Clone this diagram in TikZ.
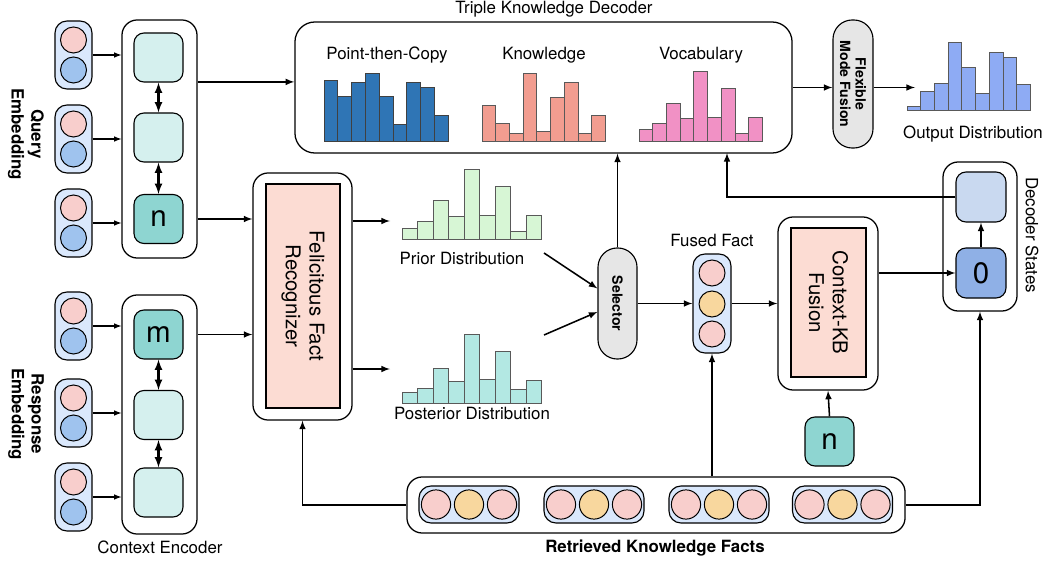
\documentclass[tikz,border=0pt]{standalone}
\usepackage{fontspec}
\setmainfont{TeX Gyre Heros}
\usepackage{tikz}

\definecolor{embfill}{HTML}{DAE8FC}
\definecolor{pinkdot}{HTML}{F8CECC}
\definecolor{bluedot}{HTML}{9FC3EE}
\definecolor{yellowdot}{HTML}{F8D79E}
\definecolor{cellfill}{HTML}{D5F0EE}
\definecolor{cellmark}{HTML}{8ED5D1}
\definecolor{selfill}{HTML}{E6E6E6}
\definecolor{recfill}{HTML}{FCDCD3}
\definecolor{stfill}{HTML}{C9D9F0}
\definecolor{zerofill}{HTML}{8FB0E6}
\definecolor{ptcbar}{HTML}{2F75B5}
\definecolor{knbar}{HTML}{F29D90}
\definecolor{vobar}{HTML}{F191C5}
\definecolor{outbar}{HTML}{8EABF4}
\definecolor{priorbar}{HTML}{D7F6D5}
\definecolor{postbar}{HTML}{B3E8E3}

\begin{document}
\begin{tikzpicture}[x=0.025cm, y=-0.025cm,
    every node/.style={inner sep=0pt},
    lbl/.style={font=\fontsize{12}{14}\selectfont},
    boldlbl/.style={font=\fontsize{12}{14}\selectfont\bfseries},
    smallbold/.style={font=\fontsize{10}{11}\selectfont\bfseries},
    bigtxt/.style={font=\fontsize{14.5}{17}\selectfont},
    link/.style={draw, -latex, line width=1.1pt},
    twoway/.style={draw, latex-latex, line width=1.5pt},
    outer/.style={draw, fill=white, rounded corners=0.38cm, line width=0.9pt},
    emb/.style={draw, fill=embfill, rounded corners=0.3cm, line width=0.8pt},
    dot/.style={circle, draw, minimum size=0.65cm, line width=0.7pt},
    cell/.style={draw, fill=cellfill, rounded corners=0.25cm, minimum size=1.225cm,
        line width=0.8pt, font=\fontsize{21}{21}\selectfont},
    capsule/.style={draw, fill=selfill, rounded corners=0.48cm, line width=0.8pt},
    bar/.style={draw=black!65, line width=0.5pt}
    ]
    \useasboundingbox (0,0) rectangle (1053,564);

    % Query side
    \foreach \y [count=\i] in {55,139,223} {
        \node[emb, minimum width=0.925cm, minimum height=1.7cm] (q\i) at (73.5,\y) {};
        \node[dot, fill=pinkdot] (qa\i) at (73.5,\y-15) {};
        \node[dot, fill=bluedot] (qb\i) at (73.5,\y+15) {};
    }
    \node[outer, minimum width=1.875cm, minimum height=5.95cm] (qenc) at (159.5,139) {};
    \node[cell] (qc1) at (158.5,57.5) {};
    \node[cell] (qc2) at (158.5,137.5) {};
    \node[cell, fill=cellmark] (qc3) at (158.5,219) {n};
    \node[boldlbl, rotate=-90, align=center] (qlbl) at (26,134) {Query\\Embedding};

    % Response side
    \foreach \y [count=\i] in {326,413,497} {
        \node[emb, minimum width=0.925cm, minimum height=1.7cm] (r\i) at (73.5,\y) {};
        \node[dot, fill=pinkdot] (ra\i) at (73.5,\y-15) {};
        \node[dot, fill=bluedot] (rb\i) at (73.5,\y+15) {};
    }
    \node[outer, minimum width=1.875cm, minimum height=5.975cm] (renc) at (159.5,414.5) {};
    \node[cell, fill=cellmark] (rc1) at (158.5,334.5) {m};
    \node[cell] (rc2) at (158.5,415) {};
    \node[cell] (rc3) at (158.5,492.5) {};
    \node[boldlbl, rotate=-90, align=center] (rlbl) at (26,414) {Response\\Embedding};
    \node[lbl] (enclbl) at (160,547) {Context Encoder};

    \foreach \i in {1,2,3} {
        \draw[link, line width=0.8pt] (q\i.east) -- (q\i.east -| qenc.west);
        \draw[link, line width=0.8pt] (r\i.east) -- (r\i.east -| renc.west);
    }
    \draw[twoway] (qc1) -- (qc2);
    \draw[twoway] (qc2) -- (qc3);
    \draw[twoway] (rc1) -- (rc2);
    \draw[twoway] (rc2) -- (rc3);

    % Triple knowledge decoder
    \node[outer, rounded corners=0.5cm, minimum width=12.425cm, minimum height=3.275cm] (dec) at (543.5,87.5) {};
    \node[lbl] (declbl) at (554,9) {Triple Knowledge Decoder};
    \node[lbl] (ptc) at (387,55) {Point-then-Copy};
    \node[lbl] (kn) at (544,55) {Knowledge};
    \node[lbl] (vo) at (701,55) {Vocabulary};
    \foreach \h [count=\i] in {61,45,59,68,45,17,59,54,26}
        \draw[bar, draw=black!75, fill=ptcbar] (324+13.8*\i-13.8,141) rectangle ++(13.8,-\h);
    \foreach \h [count=\i] in {36,18,8,68,10,44,59,8,26}
        \draw[bar, fill=knbar] (482+13.7*\i-13.7,141) rectangle ++(13.7,-\h);
    \foreach \h [count=\i] in {12,18,38,23,70,24,53,8,24}
        \draw[bar, fill=vobar] (639+13.7*\i-13.7,141) rectangle ++(13.7,-\h);

    % Mode fusion and output
    \node[capsule, minimum width=1cm, minimum height=3.2cm] (flex) at (853,84) {};
    \node[smallbold, rotate=-90, align=center] (flext) at (flex) {Flexible\\Mode Fusion};
    \foreach \h [count=\i] in {4,19,27,68,43,17,58,53,26}
        \draw[bar, fill=outbar] (907+13.7*\i-13.7,110) rectangle ++(13.7,-\h);
    \node[lbl] (outlbl) at (973,134) {Output Distribution};
    \coordinate (oin) at (915,87.5);

    % Felicitous fact recognizer
    \node[outer, minimum width=2.475cm, minimum height=6.175cm] (ffr) at (302.5,296.5) {};
    \node[draw, fill=recfill, minimum width=1.85cm, minimum height=5.6cm, line width=0.8pt] (rec) at (303,296) {};
    \node[bigtxt, rotate=-90, align=center] (rect) at (rec) {Felicitous Fact\\Recognizer};

    % Prior / posterior distributions
    \foreach \h [count=\i] in {11,18,39,23,70,24,53,8,24}
        \draw[bar, fill=priorbar] (402+15.5*\i-15.5,239) rectangle ++(15.5,-\h);
    \node[lbl] (priorlbl) at (462,258) {Prior Distribution};
    \foreach \h [count=\i] in {11,15,35,22,69,24,52,14,23}
        \draw[bar, fill=postbar] (402+15.5*\i-15.5,403) rectangle ++(15.5,-\h);
    \node[lbl] (postlbl) at (472,413) {Posterior Distribution};
    \coordinate (pin) at (390,221);
    \coordinate (qin) at (390,369);
    \coordinate (pout) at (544,253);
    \coordinate (qout) at (544,335);

    % Selector and fused fact
    \node[capsule, minimum width=0.975cm, minimum height=2.775cm] (sel) at (617.5,303.5) {};
    \node[smallbold, rotate=-90] (selt) at (sel) {Selector};
    \node[emb, minimum width=0.95cm, minimum height=2.475cm] (ff) at (712,303.5) {};
    \node[dot, fill=pinkdot] (ffa) at (712,273) {};
    \node[dot, fill=yellowdot] (ffb) at (712,304) {};
    \node[dot, fill=pinkdot] (ffc) at (712,334) {};
    \node[lbl] (fflbl) at (712,240) {Fused Fact};

    % Context-KB fusion
    \node[outer, minimum width=2.5cm, minimum height=4.325cm] (kb) at (828,303.5) {};
    \node[draw, fill=recfill, minimum width=1.875cm, minimum height=3.725cm, line width=0.8pt] (kbin) at (828.5,302.5) {};
    \node[bigtxt, rotate=-90, align=center] (kbt) at (kbin) {Context-KB\\Fusion};
    \node[cell, fill=cellmark] (nk) at (829.5,441.5) {n};

    % Decoder states
    \node[outer, minimum width=1.85cm, minimum height=3.725cm] (ds) at (980,236.5) {};
    \node[cell, fill=stfill, minimum size=1.25cm] (st) at (981,197) {};
    \node[cell, fill=zerofill, minimum size=1.25cm] (zero) at (981,273) {0};
    \node[lbl, rotate=-90] (dslbl) at (1032,235) {Decoder States};
    \coordinate (dfb) at (727,153);

    % Retrieved knowledge facts
    \node[outer, minimum width=12.45cm, minimum height=1.4cm] (rk) at (656,505) {};
    \foreach \x [count=\i] in {469,594,719,842.5} {
        \node[emb, minimum width=2.5cm, minimum height=0.925cm] (f\i) at (\x,504.5) {};
        \node[dot, minimum size=0.73cm, fill=pinkdot] (fa\i) at (\x-33,504.5) {};
        \node[dot, minimum size=0.73cm, fill=yellowdot] (fb\i) at (\x,504.5) {};
        \node[dot, minimum size=0.73cm, fill=pinkdot] (fc\i) at (\x+33,504.5) {};
    }
    \node[boldlbl] (rklbl) at (655,548) {Retrieved Knowledge Facts};

    % Connections
    \coordinate (din) at ([yshift=0.14cm]dec.west);
    \draw[link] (qenc.east |- din) -- (din);
    \draw[link] (qc3.east -| qenc.east) -- (qc3.east -| ffr.west);
    \draw[link] (rc1.east -| renc.east) -- (rc1.east -| ffr.west);
    \draw[link] (dec.east) -- (dec.east -| flex.west);
    \draw[link] (flex.east |- oin) -- (oin);
    \draw[link] (ffr.east |- pin) -- (pin);
    \draw[link] (ffr.east |- qin) -- (qin);
    \draw[link] (pout) -- ([yshift=0.375cm]sel.west);
    \draw[link] (qout) -- ([yshift=-0.21cm]sel.west);
    \draw[link] (sel.north) -- (sel.north |- dec.south);
    \draw[link] (sel.east) -- (ff.west);
    \draw[link] (ff.east) -- (kb.west);
    \draw[link] (kb.east |- zero.west) -- (zero.west);
    \draw[link] (zero.north) -- (st.south);
    \draw[link] (st.west) -| (dfb);
    \draw[link] (nk.north) -- (kb.south);
    \draw[link] (rk.west) -| (ffr.south);
    \draw[link] (rk.north -| ff.south) -- (ff.south);
    \draw[link] (rk.east) -| (ds.south);
\end{tikzpicture}
\end{document}
